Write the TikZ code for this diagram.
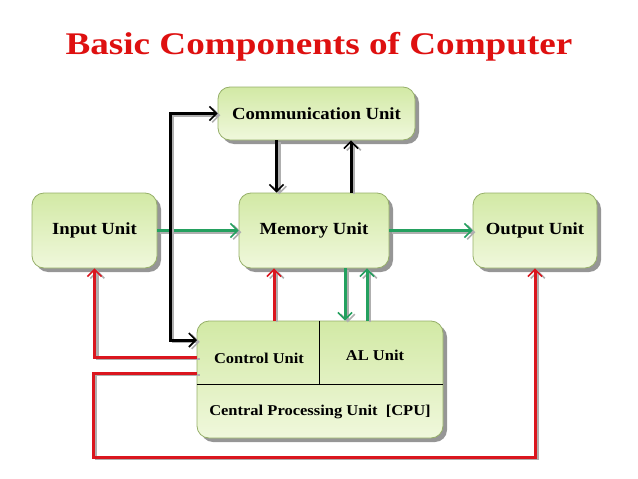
\documentclass[tikz,border=0pt]{standalone}
\usepackage{fontspec}
\setmainfont{Liberation Serif}
\newfontfamily\titlefont[FakeStretch=1.18]{Liberation Serif}
\newfontfamily\unitfont[FakeStretch=1.1]{Liberation Serif}
\usetikzlibrary{arrows.meta,shadows}
\definecolor{titlered}{RGB}{222,16,16}
\definecolor{wirered}{RGB}{218,22,30}
\definecolor{wiregreen}{RGB}{36,160,95}
\definecolor{boxtop}{RGB}{210,233,165}
\definecolor{boxbottom}{RGB}{240,248,220}
\definecolor{boxline}{RGB}{150,175,105}
\definecolor{shadowgray}{RGB}{150,150,150}
\definecolor{wireshadow}{RGB}{175,175,175}

\begin{document}
\begin{tikzpicture}[x=1pt,y=-1pt]

\tikzset{
unit/.style={rectangle,rounded corners=12pt,draw=boxline,line width=0.8pt,top color=boxtop,bottom color=boxbottom,general shadow={fill=shadowgray,shadow xshift=4pt,shadow yshift=-4pt},font=\unitfont\bfseries\fontsize{17}{19}\selectfont,inner sep=0pt},
cputext/.style={font=\unitfont\bfseries\fontsize{15}{17}\selectfont,inner sep=1pt},
tip/.style={},
wire/.style={line width=3pt,-{Straight Barb[length=7pt,width=14pt,line width=1.6pt]},preaction={draw=wireshadow,line width=2.6pt,transform canvas={shift={(2.8pt,-1.8pt)}}}},
blackwire/.style={wire,draw=black},
redwire/.style={wire,draw=wirered},
greenwire/.style={wire,draw=wiregreen}
}

\useasboundingbox (0,0) rectangle (638,479);

\node[font=\titlefont\bfseries\fontsize{31.5}{36}\selectfont,text=titlered] (title) at (319,47) {Basic Components of Computer};

\node[unit,minimum width=197pt,minimum height=53pt] (comm) at (316.5,113.5) {Communication Unit};
\node[unit,minimum width=150pt,minimum height=75pt] (mem) at (314,230.5) {Memory Unit};
\node[unit,minimum width=125pt,minimum height=75pt] (inp) at (94.5,230.5) {Input Unit};
\node[unit,minimum width=124pt,minimum height=75pt] (out) at (535,230.5) {Output Unit};
\node[unit,minimum width=246pt,minimum height=117pt] (cpu) at (320,379.5) {};

\draw[line width=0.8pt] ([yshift=-4.5pt]cpu.west) -- ([yshift=-4.5pt]cpu.east);
\draw[line width=0.8pt] ([xshift=-1pt]cpu.north) -- ([xshift=-1pt,yshift=-4.5pt]cpu.center);

\node[cputext] (control) at (259,358) {Control Unit};
\node[cputext] (alu) at (375,355) {AL Unit};
\node[cputext] (cpulabel) at (320,412) {Central Processing Unit\ \ [CPU]};

\coordinate (cpuA) at (197,340);
\coordinate (cpuB) at (197,357);
\coordinate (cpuC) at (197,373);
\coordinate (bus) at (170,113.5);
\coordinate (low) at (93,457);

\draw[greenwire] (inp) -- (mem);
\draw[greenwire] (mem) -- (out);
\draw[blackwire] ([xshift=-40pt]comm.south) -- ([xshift=-40pt]comm.south |- mem.north);
\draw[blackwire] ([xshift=37pt]mem.north) -- ([xshift=37pt]mem.north |- comm.south);
\draw[redwire] ([xshift=-40pt]mem.south |- cpu.north) -- ([xshift=-40pt]mem.south);
\draw[greenwire] ([xshift=31pt]mem.south) -- ([xshift=31pt]mem.south |- cpu.north);
\draw[greenwire] ([xshift=53pt]mem.south |- cpu.north) -- ([xshift=53pt]mem.south);
\draw[blackwire,{Straight Barb[length=7pt,width=14pt,line width=1.6pt]}-{Straight Barb[length=7pt,width=14pt,line width=1.6pt]}] (comm.west) -- (bus) |- (cpuA);
\draw[redwire] (cpuB) -| (inp.south);
\draw[redwire] (cpuC) -| (low) -| (out.south);

\end{tikzpicture}
\end{document}
